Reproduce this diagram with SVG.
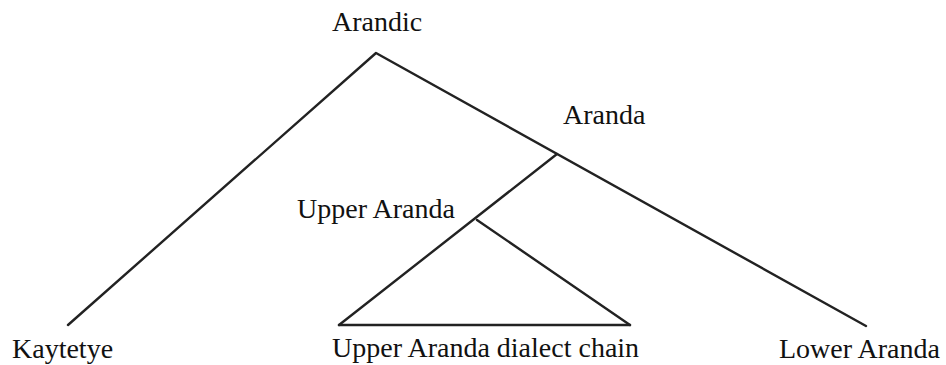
<svg xmlns="http://www.w3.org/2000/svg" width="946" height="365" viewBox="0 0 946 365">
<style>
.lbl{font-family:"Liberation Serif","Times New Roman",serif;font-size:28px;fill:#111}
.edge{stroke:#222;stroke-width:2.4;fill:none;stroke-linecap:round;stroke-linejoin:round}
</style>
<rect width="946" height="365" fill="#ffffff"/>
<g id="connectors">
<polyline class="edge" points="68,325 376,53 866,326"/>
<line class="edge" x1="557" y1="154" x2="339" y2="325"/>
<line class="edge" x1="477" y1="220" x2="630" y2="325"/>
<line class="edge" x1="339" y1="325" x2="630" y2="325"/>
</g>
<g id="node-arandic"><text class="lbl" x="332" y="31">Arandic</text></g>
<g id="node-aranda"><text class="lbl" x="563" y="124">Aranda</text></g>
<g id="node-upper-aranda"><text class="lbl" x="297" y="218">Upper Aranda</text></g>
<g id="node-kaytetye"><text class="lbl" x="12" y="358">Kaytetye</text></g>
<g id="node-upper-aranda-chain"><text class="lbl" x="332" y="357">Upper Aranda dialect chain</text></g>
<g id="node-lower-aranda"><text class="lbl" x="779" y="358">Lower Aranda</text></g>
</svg>
